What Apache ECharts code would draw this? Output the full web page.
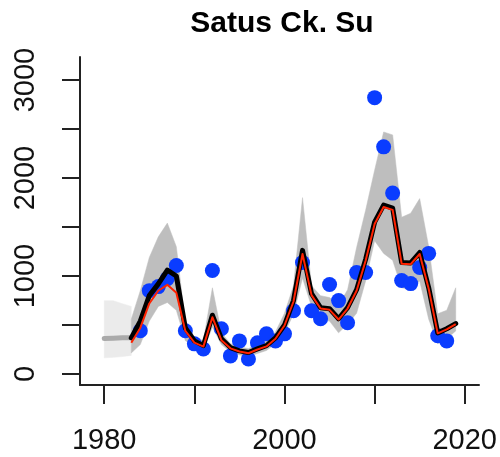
<!DOCTYPE html>
<html>
<head>
<meta charset="utf-8">
<script src="https://cdn.jsdelivr.net/npm/echarts@6/dist/echarts.min.js"></script>
<style>html,body{margin:0;padding:0;background:#fff}#c{width:500px;height:457px}</style>
</head>
<body>
<div id="c"></div>
<script>
// ---- data ----
var earlyYears = [1980, 1981, 1982, 1983];
var earlyMedian = [362, 366, 370, 369];
var earlyLower = [165, 170, 178, 190];
var earlyUpper = [748, 748, 718, 690];

var years = [1983,1984,1985,1986,1987,1988,1989,1990,1991,1992,1993,1994,1995,1996,1997,1998,1999,2000,2001,2002,2003,2004,2005,2006,2007,2008,2009,2010,2011,2012,2013,2014,2015,2016,2017,2018,2019];
var median = [369,540,800,920,1060,1000,470,338,290,600,360,270,236,220,256,290,369,500,750,1262,820,677,667,564,677,860,1170,1550,1723,1692,1138,1133,1240,880,420,462,515];
var fitted = [320,470,720,850,910,830,440,320,280,580,345,262,230,212,250,282,360,495,740,1225,805,668,655,556,668,850,1155,1530,1705,1675,1125,1120,1225,870,415,455,510];
var upper = [560,850,1190,1400,1540,1300,520,380,340,880,420,310,275,260,300,340,430,620,900,1800,900,800,780,700,860,1290,1670,2080,2470,2440,1600,1640,1790,1300,615,650,880];
var lower = [215,300,540,690,730,650,340,290,240,480,300,225,195,180,210,240,310,420,610,980,690,560,540,420,510,620,950,1360,1231,1160,880,860,950,560,310,360,440];

var obsYears = [1984,1985,1986,1987,1988,1989,1990,1991,1992,1993,1994,1995,1996,1997,1998,1999,2000,2001,2002,2003,2004,2005,2006,2007,2008,2009,2010,2011,2012,2013,2014,2015,2016,2017,2018];
var observed = [441,851,892,974,1108,441,308,256,1056,462,185,338,154,318,410,338,410,646,1138,646,564,913,749,523,1036,1036,2820,2318,1846,954,923,1087,1231,390,338];

var xTicks = [1980, 1990, 2000, 2010, 2020];
var xLabels = [1980, 2000, 2020];
var yTicks = [0, 500, 1000, 1500, 2000, 2500, 3000];
var yLabels = [0, 1000, 2000, 3000];
var titleText = 'Satus Ck. Su';

// ---- build ----
function pairs(xs, ys) { return xs.map(function (x, i) { return [x, ys[i]]; }); }
function triples(xs, lo, hi) { return xs.map(function (x, i) { return [x, lo[i], hi[i]]; }); }

// draws the whole band polygon once (at the first item) through the axis scales
function bandRenderer(color) {
  return function (params, api) {
    if (params.dataIndexInside !== 0) return null;
    var n = params.dataInsideLength;
    var top = [], bot = [];
    for (var j = 0; j < n; j++) {
      var x = api.value(0, j);
      top.push(api.coord([x, api.value(2, j)]));
      bot.push(api.coord([x, api.value(1, j)]));
    }
    var pts = top.concat(bot.reverse());
    return {
      type: 'polygon',
      shape: { points: pts },
      style: { fill: color, stroke: color, lineWidth: 0.5 },
      silent: true
    };
  };
}

var FONT = '"Liberation Sans", Arial, Helvetica, sans-serif';
var chart = echarts.init(document.getElementById('c'), null, { renderer: 'canvas' });

chart.setOption({
  animation: false,
  backgroundColor: '#ffffff',
  title: {
    text: titleText,
    left: 277,
    top: 4,
    textAlign: 'center',
    textStyle: { fontFamily: FONT, fontWeight: 'bold', fontSize: 30, color: '#000' }
  },
  grid: { left: 80, right: 20, top: 57, bottom: 72, containLabel: false },
  xAxis: {
    type: 'value',
    min: 1977.31,
    max: 2021.58,
    splitLine: { show: false },
    axisLine: { show: true, onZero: false, lineStyle: { color: '#222', width: 2 } },
    axisTick: { show: true, customValues: xTicks, length: 19, lineStyle: { color: '#222', width: 2 } },
    axisLabel: { customValues: xLabels, margin: 41, fontFamily: FONT, fontSize: 29, color: '#111',
      formatter: function (v) { return String(v); } }
  },
  yAxis: {
    type: 'value',
    min: -112,
    max: 3235,
    splitLine: { show: false },
    axisLine: { show: true, onZero: false, lineStyle: { color: '#222', width: 2 } },
    axisTick: { show: true, customValues: yTicks, length: 18, lineStyle: { color: '#222', width: 2 } },
    axisLabel: { customValues: yLabels, rotate: 90, margin: 40, fontFamily: FONT, fontSize: 29, color: '#111',
      formatter: function (v) { return String(v); } }
  },
  series: [
    { type: 'custom', name: 'earlyBand', data: triples(earlyYears, earlyLower, earlyUpper),
      renderItem: bandRenderer('#ebebeb'), encode: { x: 0, y: [1, 2] }, silent: true, z: 1, clip: true },
    { type: 'custom', name: 'band', data: triples(years, lower, upper),
      renderItem: bandRenderer('#bebebe'), encode: { x: 0, y: [1, 2] }, silent: true, z: 2, clip: true },
    { type: 'line', name: 'earlyMedian', data: pairs(earlyYears, earlyMedian), symbol: 'none',
      lineStyle: { color: '#aaaaaa', width: 5, cap: 'round', join: 'round' }, z: 3 },
    { type: 'scatter', name: 'obs', data: pairs(obsYears, observed), symbol: 'circle', symbolSize: 15,
      itemStyle: { color: '#0a3cff', opacity: 1 }, z: 4 },
    { type: 'line', name: 'median', data: pairs(years, median), symbol: 'none',
      lineStyle: { color: '#000', width: 5, join: 'round', cap: 'round' }, z: 5 },
    { type: 'line', name: 'fit', data: pairs(years, fitted), symbol: 'none',
      lineStyle: { color: '#ff2200', width: 2, join: 'round' }, z: 6 }
  ]
});
</script>
</body>
</html>
